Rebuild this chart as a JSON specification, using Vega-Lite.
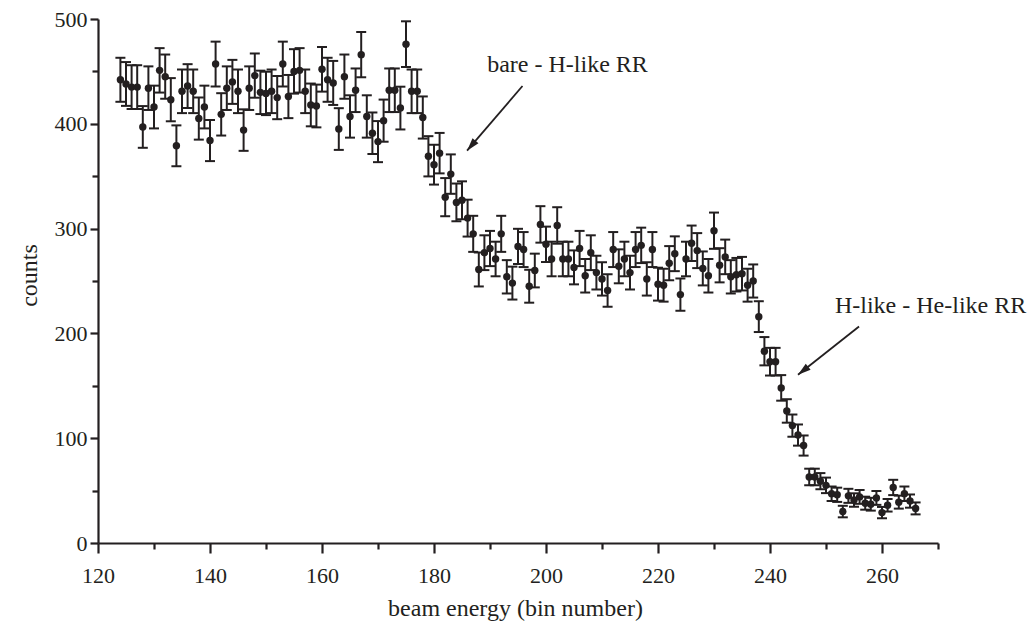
{
  "$schema": "https://vega.github.io/schema/vega-lite/v6.json",
  "autosize": "none",
  "width": 840,
  "height": 524,
  "padding": {"left": 98, "top": 19, "right": 96, "bottom": 84},
  "background": "white",
  "config": {
    "view": {"stroke": null},
    "font": "Liberation Serif",
    "axis": {
      "grid": false,
      "labelFlush": false,
      "labelOverlap": false,
      "domainColor": "#231f20",
      "domainWidth": 2.2,
      "tickColor": "#231f20",
      "tickWidth": 2.2,
      "labelFont": "Liberation Serif",
      "labelFontSize": 22,
      "labelColor": "#231f20",
      "titleFont": "Liberation Serif",
      "titleFontSize": 24,
      "titleFontWeight": "normal",
      "titleColor": "#231f20"
    }
  },
  "datasets": {
    "pts": [
      {"bin":124,"counts":442,"err":21.0},{"bin":125,"counts":438,"err":20.9},{"bin":126,"counts":435,"err":20.9},{"bin":127,"counts":435,"err":20.9},
      {"bin":128,"counts":397,"err":19.9},{"bin":129,"counts":434,"err":20.8},{"bin":130,"counts":416,"err":20.4},{"bin":131,"counts":451,"err":21.2},
      {"bin":132,"counts":445,"err":21.1},{"bin":133,"counts":423,"err":20.6},{"bin":134,"counts":379,"err":19.5},{"bin":135,"counts":431,"err":20.8},
      {"bin":136,"counts":436,"err":20.9},{"bin":137,"counts":431,"err":20.8},{"bin":138,"counts":405,"err":20.1},{"bin":139,"counts":416,"err":20.4},
      {"bin":140,"counts":384,"err":19.6},{"bin":141,"counts":457,"err":21.4},{"bin":142,"counts":409,"err":20.2},{"bin":143,"counts":434,"err":20.8},
      {"bin":144,"counts":440,"err":21.0},{"bin":145,"counts":431,"err":20.8},{"bin":146,"counts":394,"err":19.8},{"bin":147,"counts":434,"err":20.8},
      {"bin":148,"counts":446,"err":21.1},{"bin":149,"counts":430,"err":20.7},{"bin":150,"counts":429,"err":20.7},{"bin":151,"counts":431,"err":20.8},
      {"bin":152,"counts":425,"err":20.6},{"bin":153,"counts":457,"err":21.4},{"bin":154,"counts":426,"err":20.6},{"bin":155,"counts":450,"err":21.2},
      {"bin":156,"counts":451,"err":21.2},{"bin":157,"counts":431,"err":20.8},{"bin":158,"counts":418,"err":20.4},{"bin":159,"counts":417,"err":20.4},
      {"bin":160,"counts":452,"err":21.3},{"bin":161,"counts":442,"err":21.0},{"bin":162,"counts":439,"err":21.0},{"bin":163,"counts":395,"err":19.9},
      {"bin":164,"counts":445,"err":21.1},{"bin":165,"counts":407,"err":20.2},{"bin":166,"counts":432,"err":20.8},{"bin":167,"counts":466,"err":21.6},
      {"bin":168,"counts":407,"err":20.2},{"bin":169,"counts":391,"err":19.8},{"bin":170,"counts":383,"err":19.6},{"bin":171,"counts":403,"err":20.1},
      {"bin":172,"counts":432,"err":20.8},{"bin":173,"counts":432,"err":20.8},{"bin":174,"counts":415,"err":20.4},{"bin":175,"counts":476,"err":21.8},
      {"bin":176,"counts":431,"err":20.8},{"bin":177,"counts":431,"err":20.8},{"bin":178,"counts":406,"err":20.1},{"bin":179,"counts":369,"err":19.2},
      {"bin":180,"counts":361,"err":19.0},{"bin":181,"counts":372,"err":19.3},{"bin":182,"counts":330,"err":18.2},{"bin":183,"counts":352,"err":18.8},
      {"bin":184,"counts":325,"err":18.0},{"bin":185,"counts":327,"err":18.1},{"bin":186,"counts":310,"err":17.6},{"bin":187,"counts":295,"err":17.2},
      {"bin":188,"counts":261,"err":16.2},{"bin":189,"counts":277,"err":16.6},{"bin":190,"counts":281,"err":16.8},{"bin":191,"counts":271,"err":16.5},
      {"bin":192,"counts":295,"err":17.2},{"bin":193,"counts":254,"err":15.9},{"bin":194,"counts":248,"err":15.7},{"bin":195,"counts":283,"err":16.8},
      {"bin":196,"counts":280,"err":16.7},{"bin":197,"counts":245,"err":15.7},{"bin":198,"counts":260,"err":16.1},{"bin":199,"counts":304,"err":17.4},
      {"bin":200,"counts":285,"err":16.9},{"bin":201,"counts":271,"err":16.5},{"bin":202,"counts":303,"err":17.4},{"bin":203,"counts":271,"err":16.5},
      {"bin":204,"counts":271,"err":16.5},{"bin":205,"counts":263,"err":16.2},{"bin":206,"counts":281,"err":16.8},{"bin":207,"counts":255,"err":16.0},
      {"bin":208,"counts":277,"err":16.6},{"bin":209,"counts":258,"err":16.1},{"bin":210,"counts":252,"err":15.9},{"bin":211,"counts":241,"err":15.5},
      {"bin":212,"counts":280,"err":16.7},{"bin":213,"counts":264,"err":16.2},{"bin":214,"counts":271,"err":16.5},{"bin":215,"counts":258,"err":16.1},
      {"bin":216,"counts":280,"err":16.7},{"bin":217,"counts":284,"err":16.9},{"bin":218,"counts":252,"err":15.9},{"bin":219,"counts":280,"err":16.7},
      {"bin":220,"counts":247,"err":15.7},{"bin":221,"counts":246,"err":15.7},{"bin":222,"counts":267,"err":16.3},{"bin":223,"counts":276,"err":16.6},
      {"bin":224,"counts":237,"err":15.4},{"bin":225,"counts":271,"err":16.5},{"bin":226,"counts":286,"err":16.9},{"bin":227,"counts":279,"err":16.7},
      {"bin":228,"counts":262,"err":16.2},{"bin":229,"counts":255,"err":16.0},{"bin":230,"counts":298,"err":17.3},{"bin":231,"counts":265,"err":16.3},
      {"bin":232,"counts":273,"err":16.5},{"bin":233,"counts":254,"err":15.9},{"bin":234,"counts":256,"err":16.0},{"bin":235,"counts":257,"err":16.0},
      {"bin":236,"counts":246,"err":15.7},{"bin":237,"counts":250,"err":15.8},{"bin":238,"counts":216,"err":14.7},{"bin":239,"counts":183,"err":13.5},
      {"bin":240,"counts":173,"err":13.2},{"bin":241,"counts":173,"err":13.2},{"bin":242,"counts":148,"err":12.2},{"bin":243,"counts":126,"err":11.2},
      {"bin":244,"counts":112,"err":10.6},{"bin":245,"counts":103,"err":10.1},{"bin":246,"counts":93,"err":9.6},{"bin":247,"counts":63,"err":7.9},
      {"bin":248,"counts":63,"err":7.9},{"bin":249,"counts":59,"err":7.7},{"bin":250,"counts":55,"err":7.4},{"bin":251,"counts":47,"err":6.9},
      {"bin":252,"counts":46,"err":6.8},{"bin":253,"counts":30,"err":5.5},{"bin":254,"counts":45,"err":6.7},{"bin":255,"counts":41,"err":6.4},
      {"bin":256,"counts":44,"err":6.6},{"bin":257,"counts":38,"err":6.2},{"bin":258,"counts":37,"err":6.1},{"bin":259,"counts":43,"err":6.6},
      {"bin":260,"counts":29,"err":5.4},{"bin":261,"counts":36,"err":6.0},{"bin":262,"counts":53,"err":7.3},{"bin":263,"counts":39,"err":6.2},
      {"bin":264,"counts":47,"err":6.9},{"bin":265,"counts":40,"err":6.3},{"bin":266,"counts":33,"err":5.7}
    ],
    "notes": [
      {"bin":189.5,"counts":449.7,"label":"bare - H-like RR"},
      {"bin":251.6,"counts":219.9,"label":"H-like - He-like RR"}
    ],
    "arrows": [
      {"bin":195.8,"counts":436.1,"bin2":185.9,"counts2":374.4,"angle":220.6},
      {"bin":255.9,"counts":206.6,"bin2":245.0,"counts2":160.5,"angle":231.5}
    ]
  },
  "layer": [
    {
      "data": {"name": "pts"},
      "mark": {"type": "errorbar", "color": "#231f20", "thickness": 2, "opacity": 1, "ticks": {"size": 10, "thickness": 2, "color": "#231f20", "opacity": 1}},
      "encoding": {
        "x": {"field": "bin", "type": "quantitative",
          "scale": {"domain": [120, 270], "nice": false, "zero": false},
          "axis": {"title": "beam energy (bin number)",
            "values": [120,130,140,150,160,170,180,190,200,210,220,230,240,250,260,270],
            "labelExpr": "datum.value % 20 == 0 ? datum.label : ''",
            "tickSize": {"condition": {"test": "datum.value % 20 == 0", "value": 10}, "value": 6},
            "labelPadding": 12,
            "titleX": 417, "titleY": 65, "titleBaseline": "middle", "titleAlign": "center"}},
        "y": {"field": "counts", "type": "quantitative",
          "scale": {"domain": [0, 500], "nice": false},
          "axis": {"title": "counts",
            "values": [0,50,100,150,200,250,300,350,400,450,500],
            "labelExpr": "datum.value % 100 == 0 ? datum.label : ''",
            "tickSize": {"condition": {"test": "datum.value % 100 == 0", "value": 8}, "value": 6},
            "labelPadding": 3,
            "titleX": -69, "titleY": 256, "titleAngle": -90, "titleBaseline": "middle", "titleAlign": "center"}},
        "yError": {"field": "err"}
      }
    },
    {
      "data": {"name": "pts"},
      "mark": {"type": "point", "filled": true, "size": 55, "color": "#231f20", "opacity": 1},
      "encoding": {
        "x": {"field": "bin", "type": "quantitative"},
        "y": {"field": "counts", "type": "quantitative"}
      }
    },
    {
      "data": {"name": "arrows"},
      "mark": {"type": "rule", "color": "#231f20", "strokeWidth": 1.8},
      "encoding": {
        "x": {"field": "bin", "type": "quantitative"},
        "y": {"field": "counts", "type": "quantitative"},
        "x2": {"field": "bin2"},
        "y2": {"field": "counts2"}
      }
    },
    {
      "data": {"name": "arrows"},
      "mark": {"type": "point", "filled": true, "opacity": 1, "color": "#231f20", "size": 676, "shape": "M0,0L-0.3,1L0.3,1Z"},
      "encoding": {
        "x": {"field": "bin2", "type": "quantitative"},
        "y": {"field": "counts2", "type": "quantitative"},
        "angle": {"field": "angle", "type": "quantitative", "scale": null}
      }
    },
    {
      "data": {"name": "notes"},
      "mark": {"type": "text", "align": "left", "baseline": "alphabetic", "font": "Liberation Serif", "fontSize": 24, "color": "#231f20", "clip": false},
      "encoding": {
        "x": {"field": "bin", "type": "quantitative"},
        "y": {"field": "counts", "type": "quantitative"},
        "text": {"field": "label"}
      }
    }
  ]
}
